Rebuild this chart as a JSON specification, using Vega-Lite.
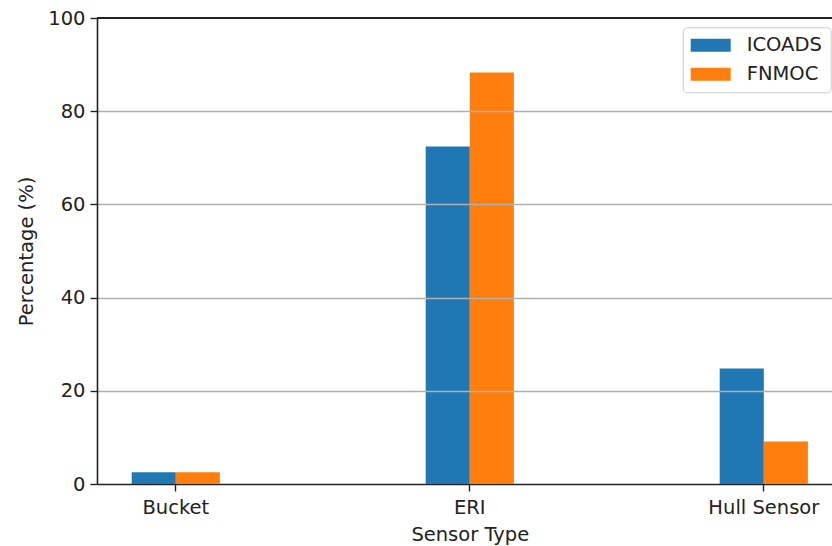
{
  "$schema": "https://vega.github.io/schema/vega-lite/v6.json",
  "width": 735,
  "height": 466,
  "autosize": {"type": "none"},
  "padding": {"left": 97, "top": 18, "right": 0, "bottom": 62},
  "config": {
    "font": "DejaVu Sans",
    "view": {"stroke": null},
    "axis": {
      "labelFont": "DejaVu Sans",
      "titleFont": "DejaVu Sans",
      "labelFontSize": 19.5,
      "titleFontSize": 19.5,
      "titleFontWeight": "normal",
      "labelColor": "#222",
      "titleColor": "#222",
      "domainColor": "#222",
      "domainWidth": 1.6,
      "tickColor": "#222",
      "tickWidth": 1.4,
      "tickSize": 7
    }
  },
  "data": {
    "values": [
      {"sensor": "Bucket", "source": "ICOADS", "pct": 2.5},
      {"sensor": "Bucket", "source": "FNMOC", "pct": 2.5},
      {"sensor": "ERI", "source": "ICOADS", "pct": 72.4},
      {"sensor": "ERI", "source": "FNMOC", "pct": 88.3},
      {"sensor": "Hull Sensor", "source": "ICOADS", "pct": 24.8},
      {"sensor": "Hull Sensor", "source": "FNMOC", "pct": 9.1}
    ]
  },
  "layer": [
    {
      "mark": {"type": "bar", "strokeWidth": 0},
      "encoding": {
        "x": {
          "field": "sensor",
          "type": "nominal",
          "sort": ["Bucket", "ERI", "Hull Sensor"],
          "scale": {"range": [0, 745.6], "paddingInner": 0.7, "paddingOuter": 0.118},
          "axis": {
            "title": "Sensor Type",
            "labelAngle": 0,
            "labelPadding": 7,
            "titlePadding": 9,
            "grid": false
          }
        },
        "xOffset": {
          "field": "source",
          "type": "nominal",
          "sort": ["ICOADS", "FNMOC"],
          "scale": {"paddingInner": 0, "paddingOuter": 0}
        },
        "y": {
          "field": "pct",
          "type": "quantitative",
          "scale": {"domain": [0, 100], "nice": false},
          "axis": {
            "title": "Percentage (%)",
            "values": [0, 20, 40, 60, 80, 100],
            "labelPadding": 5,
            "titlePadding": 11,
            "grid": true,
            "gridColor": "#b0b0b0",
            "gridWidth": 1.5,
            "gridOpacity": {"condition": {"test": "datum.value == 0 || datum.value == 100", "value": 0}, "value": 1},
            "zindex": 1
          }
        },
        "color": {
          "field": "source",
          "type": "nominal",
          "sort": ["ICOADS", "FNMOC"],
          "scale": {"domain": ["ICOADS", "FNMOC"], "range": ["#1f77b4", "#ff7f0e"]},
          "legend": {
            "title": null,
            "orient": "none",
            "legendX": 585.7,
            "legendY": 9.3,
            "padding": 8,
            "fillColor": "white",
            "strokeColor": "#cccccc",
            "cornerRadius": 4,
            "symbolType": "M-1,-0.65H3V0.65H-1Z",
            "symbolSize": 400,
            "symbolStrokeWidth": 0,
            "symbolOpacity": 1,
            "labelFontSize": 19.5,
            "labelColor": "#222",
            "labelOffset": 36,
            "rowPadding": 9
          }
        }
      }
    },
    {
      "mark": {"type": "rule", "color": "#222", "strokeWidth": 1.6},
      "encoding": {"y": {"datum": 100}}
    }
  ]
}
